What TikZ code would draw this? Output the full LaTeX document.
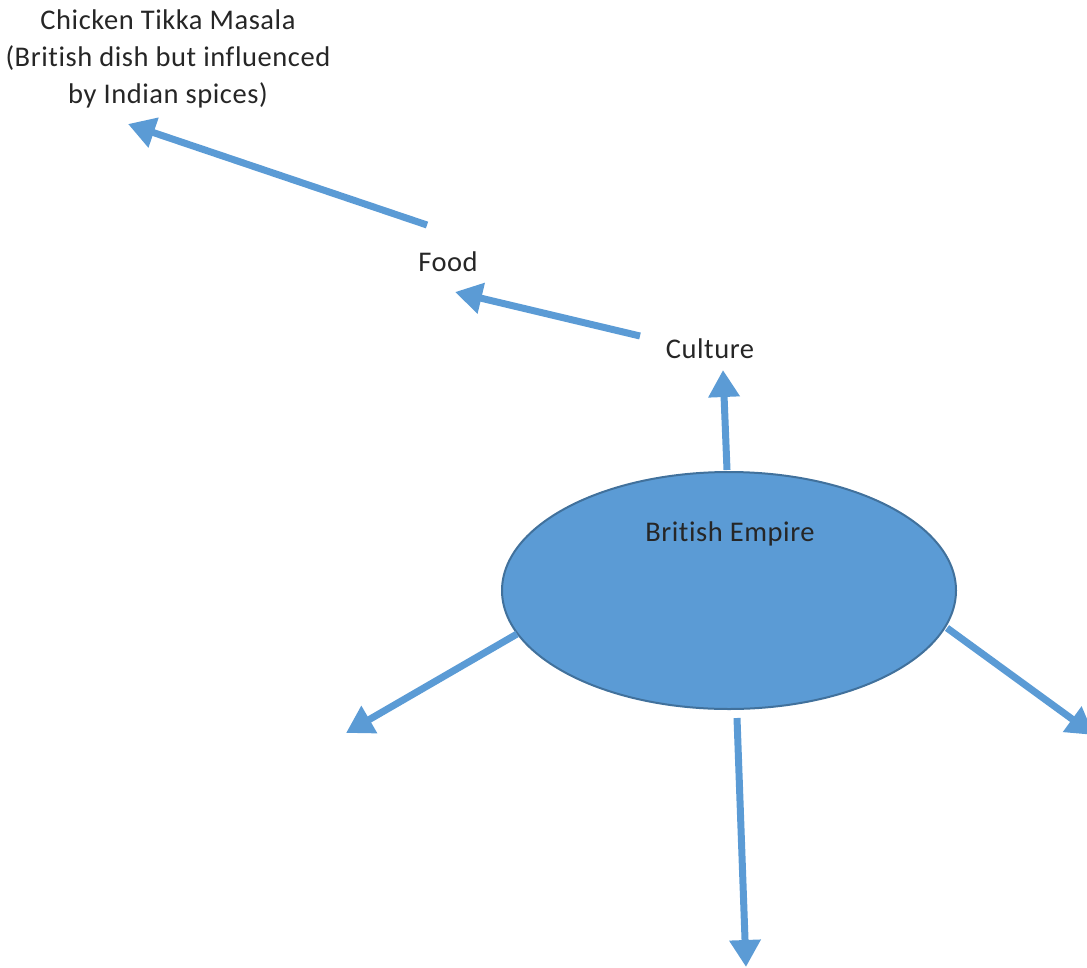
\documentclass[tikz,border=0pt]{standalone}
\usepackage{fontspec}
\setmainfont[Ligatures=NoCommon,LetterSpace=2]{Carlito}
\usetikzlibrary{arrows.meta,shapes.geometric}
\definecolor{blu}{HTML}{5B9BD5}
\definecolor{blb}{HTML}{41719C}
\begin{document}
\begin{tikzpicture}[x=1pt,y=-1pt,
  lbl/.style={font=\fontsize{28.5}{37}\selectfont, text=black!85, inner sep=0pt, align=center},
  conn/.style={draw=blu, line width=7pt, -{Triangle[length=27pt,width=30pt]}}]
\useasboundingbox (0,0) rectangle (1087,967);
\node[ellipse, fill=blu, draw=blb, line width=2pt, minimum width=454pt, minimum height=237pt, inner sep=0pt] (emp) at (729,590.5) {};
\node[lbl] (empt) at (730,534) {British Empire};
\node[lbl] (cult) at (710,349) {Culture};
\node[lbl] (food) at (448,262) {Food};
\node[lbl] (ctm) at (168,59) {Chicken Tikka Masala\\(British dish but influenced\\by Indian spices)};
\coordinate (c1) at (727,470);
\coordinate (c1t) at (723,370);
\coordinate (f1) at (640,336);
\coordinate (f1t) at (455,292);
\coordinate (m1) at (427,225);
\coordinate (m1t) at (128,124);
\coordinate (l1) at (517,634);
\coordinate (l1t) at (346,733);
\coordinate (b1) at (737,718);
\coordinate (b1t) at (746,967);
\coordinate (r1) at (947,628);
\coordinate (r1t) at (1094,735);
\draw[conn] (c1) -- (c1t);
\draw[conn] (f1) -- (f1t);
\draw[conn] (m1) -- (m1t);
\draw[conn] (l1) -- (l1t);
\draw[conn] (b1) -- (b1t);
\draw[conn] (r1) -- (r1t);
\end{tikzpicture}
\end{document}
